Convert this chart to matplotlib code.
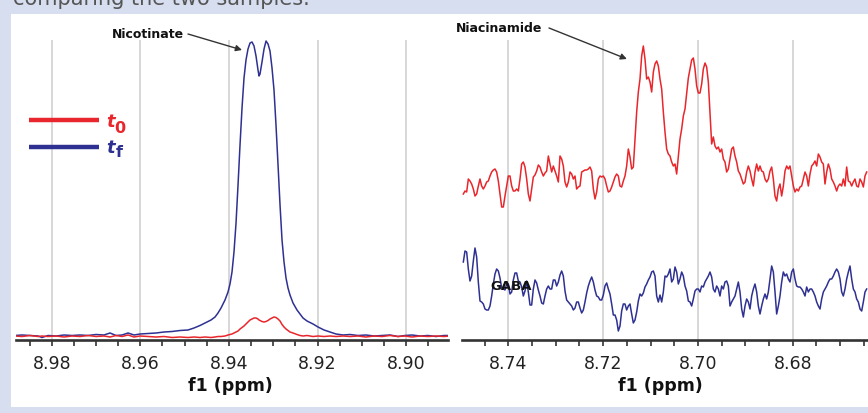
import numpy as np
import matplotlib
matplotlib.use('Agg')
import matplotlib.pyplot as plt
from matplotlib.patches import Rectangle
from matplotlib.lines import Line2D
from matplotlib.ticker import MultipleLocator, FormatStrFormatter

# ---------------- data ----------------
# Left panel: chemical shift (ppm) and intensities (arbitrary units)
left_ppm = [8.98828, 8.98670, 8.98490, 8.98309, 8.98219, 8.98084, 8.97903, 8.97722, 8.97542, 8.97361,
            8.97181, 8.97000, 8.96820, 8.96684, 8.96549, 8.96413, 8.96278, 8.96142, 8.96007, 8.95827,
            8.95646, 8.95465, 8.95285, 8.95104, 8.94924, 8.94788, 8.94653, 8.94540, 8.94405, 8.94314,
            8.94247, 8.94179, 8.94089, 8.94021, 8.93976, 8.93931, 8.93886, 8.93840, 8.93795, 8.93750,
            8.93705, 8.93660, 8.93615, 8.93570, 8.93524, 8.93479, 8.93434, 8.93389, 8.93344, 8.93321,
            8.93299, 8.93254, 8.93208, 8.93163, 8.93118, 8.93073, 8.93028, 8.92983, 8.92938, 8.92892,
            8.92847, 8.92802, 8.92757, 8.92712, 8.92667, 8.92622, 8.92554, 8.92464, 8.92396, 8.92328,
            8.92238, 8.92102, 8.91990, 8.91854, 8.91719, 8.91583, 8.91425, 8.91267, 8.91087, 8.90906,
            8.90726, 8.90545, 8.90365, 8.90184, 8.90026, 8.89868, 8.89687, 8.89507, 8.89326, 8.89146,
            8.89010]

nicotinate_tf = [4.5, 5, 4.5, 4, 2.5, 4.5, 4, 5, 4.5, 5,
                 4.5, 5.5, 5, 7, 4.5, 5, 7, 5, 6, 6.5,
                 7, 8, 8.5, 9.5, 10, 12, 14.5, 17, 20, 23,
                 27, 32, 40, 48, 56, 68, 88, 117, 155, 195,
                 232, 262, 280, 291, 297, 298, 294, 284, 270, 264,
                 266, 278, 291, 299, 296, 289, 272, 250, 215, 175,
                 135, 100, 78, 62, 52, 45, 37, 30, 26, 22,
                 19, 16, 13, 10, 8, 6, 5, 5.5, 4.5, 5,
                 4, 4.5, 5, 3.5, 4.5, 5, 4, 4.5, 3.5, 4.5,
                 4.5]

nicotinate_t0 = [4, 3.5, 4.5, 3.5, 4, 3.5, 4, 3, 4, 3.5,
                 4.5, 3.5, 4, 3, 4.5, 3.5, 5, 3, 4, 3.5,
                 3, 3.5, 2.5, 3, 2.5, 3, 2.5, 3, 2.5, 3,
                 3.5, 3.5, 4, 5, 5.5, 6, 7, 8, 9, 11,
                 12.5, 14, 16, 18, 20, 21, 22, 22, 21, 20,
                 19.5, 18.5, 18, 18.5, 19.5, 21, 22, 23, 22.5, 21,
                 19, 15.5, 13, 11, 9.5, 8, 7, 5.5, 4.5, 4,
                 4.5, 3.5, 4, 3.5, 4, 3.5, 4, 3.5, 4, 3,
                 4, 3.5, 4.5, 3.5, 4, 3, 4, 3.5, 4, 3.5,
                 4]

# Right panel: uniformly sampled spectrum from 8.74948 to 8.66441 ppm
right_ppm_start, right_ppm_end = 8.74948, 8.66441

niacinamide_t0 = [146, 149, 148, 161, 159, 156, 151, 144, 146, 154,
                  161, 154, 151, 154, 158, 159, 164, 168, 170, 171,
                  168, 159, 146, 133, 133, 144, 154, 164, 164, 154,
                  149, 149, 151, 149, 161, 176, 178, 173, 161, 146,
                  139, 151, 163, 165, 169, 175, 173, 168, 164, 167,
                  169, 184, 176, 168, 174, 169, 164, 158, 184, 181,
                  174, 158, 153, 158, 168, 166, 161, 164, 151, 153,
                  154, 168, 169, 170, 170, 171, 173, 169, 151, 141,
                  148, 161, 164, 163, 164, 161, 154, 148, 149, 153,
                  158, 163, 166, 164, 154, 153, 159, 164, 174, 191,
                  183, 171, 173, 201, 228, 248, 261, 284, 294, 281,
                  261, 263, 258, 248, 268, 276, 279, 274, 261,
                  251, 228, 208, 191, 186, 184, 178, 174, 176, 166,
                  184, 201, 211, 224, 231, 246, 262, 271, 280, 282,
                  271, 254, 247, 247, 256, 271, 277, 273, 258, 228,
                  196, 203, 194, 191, 193, 188, 191, 181, 178, 168,
                  171, 181, 191, 193, 184, 178, 169, 166, 161, 156,
                  158, 168, 174, 169, 161, 154, 168, 176, 169, 174,
                  169, 168, 161, 158, 161, 169, 173, 161, 144, 139,
                  151, 156, 144, 154, 169, 174, 171, 174, 164, 154,
                  148, 151, 149, 153, 154, 161, 168, 164, 154, 166,
                  174, 176, 179, 174, 186, 183, 178, 176, 156, 168,
                  176, 171, 161, 158, 154, 149, 154, 156, 154, 161,
                  154, 173, 159, 158, 154, 158, 161, 154, 153, 161,
                  158, 153, 164, 168]

gaba_tf = [78, 89, 88, 71, 59, 64, 79, 92, 83, 58,
           39, 38, 36, 31, 30, 30, 34, 44, 56, 66,
           71, 69, 62, 52, 51, 50, 56, 56, 46, 48,
           60, 67, 67, 59, 58, 53, 44, 49, 59, 48,
           35, 35, 51, 60, 57, 50, 44, 37, 36, 44,
           51, 54, 51, 51, 60, 60, 54, 58, 65, 69,
           64, 49, 40, 38, 36, 34, 30, 32, 38, 38,
           32, 27, 30, 38, 47, 54, 59, 63, 58, 50,
           44, 43, 40, 40, 45, 54, 57, 51, 46, 36,
           25, 25, 20, 9, 14, 29, 36, 36, 30, 34,
           36, 26, 17, 20, 28, 39, 46, 44, 47, 53,
           56, 60, 63, 68, 69, 64, 44, 38, 45,
           38, 48, 64, 63, 66, 71, 58, 61, 73, 68,
           56, 61, 68, 64, 54, 49, 39, 38, 34, 41,
           49, 51, 51, 48, 54, 53, 58, 61, 64, 68,
           63, 51, 48, 54, 51, 44, 54, 51, 58, 59,
           54, 34, 38, 41, 44, 51, 58, 48, 31, 23,
           34, 41, 38, 31, 44, 51, 56, 48, 34, 26,
           34, 41, 46, 41, 48, 61, 74, 68, 48, 26,
           34, 44, 58, 68, 64, 66, 61, 58, 68, 71,
           61, 54, 53, 53, 51, 48, 44, 53, 48, 51,
           51, 48, 44, 38, 34, 31, 41, 48, 51, 54,
           58, 61, 61, 64, 68, 71, 68, 61, 48, 44,
           51, 61, 68, 74, 61, 51, 48, 41, 38, 31,
           29, 38, 48, 51]

assert len(left_ppm) == len(nicotinate_tf) == len(nicotinate_t0)
assert len(niacinamide_t0) == len(gaba_tf) == 243
right_ppm = np.linspace(right_ppm_start, right_ppm_end, len(niacinamide_t0))

tick_fmt = '%.2f'
x_label = 'f1 (ppm)'
legend_labels = [('t', '0'), ('t', 'f')]

# ---------------- styling ----------------
W, H = 868, 414
RED = '#e8262b'
BLUE = '#2e3192'
BG = '#d6deef'

fig = plt.figure(figsize=(W / 100, H / 100), dpi=100)
fig.patch.set_facecolor(BG)
fig.add_artist(Rectangle((11 / W, 1 - 408 / H), (W - 11) / W, (408 - 15) / H,
                         transform=fig.transFigure, facecolor='white',
                         edgecolor='none', zorder=-10))

# caption text continuing from above (cut off by the top edge, as in the reference)
fig.text(13 / W, 1 - 5 / H, 'comparing the two samples.', va='baseline',
         fontsize=15, color='#555555')


def px_rect(l, r, t=41, b=341):
    return [l / W, 1 - b / H, (r - l) / W, (b - t) / H]


axL = fig.add_axes(px_rect(16, 448))
axR = fig.add_axes(px_rect(462, 868))

for ax in (axL, axR):
    ax.set_facecolor('none')
    for s in ('left', 'right', 'top'):
        ax.spines[s].set_visible(False)
    ax.spines['bottom'].set_linewidth(1.9)
    ax.spines['bottom'].set_color('#333333')
    ax.set_yticks([])
    ax.set_ylim(0, 300)
    ax.xaxis.set_major_locator(MultipleLocator(0.02))
    ax.xaxis.set_minor_locator(MultipleLocator(0.005))
    ax.xaxis.set_major_formatter(FormatStrFormatter(tick_fmt))
    ax.tick_params(axis='x', which='both', direction='out', length=4,
                   width=1.2, color='#333333', labelsize=12.5, pad=6,
                   labelcolor='#222222')
    ax.grid(axis='x', which='major', color='#d4d4d4', lw=1.3)
    ax.set_axisbelow(True)
    ax.set_xlabel(x_label, fontsize=12.5, fontweight='bold', color='#111111')
    ax.xaxis.label.set_va('center')

axL.set_xlim(8.98806, 8.89056)
axR.set_xlim(8.74976, 8.66413)
axL.xaxis.set_label_coords(0.4954, -0.15)
axR.xaxis.set_label_coords(0.4877, -0.15)

axL.plot(left_ppm, nicotinate_tf, color=BLUE, lw=1.1, zorder=2)
axL.plot(left_ppm, nicotinate_t0, color=RED, lw=1.1, zorder=3)
axR.plot(right_ppm, niacinamide_t0, color=RED, lw=1.1)
axR.plot(right_ppm, gaba_tf, color=BLUE, lw=1.1)

# annotations
arrow = dict(arrowstyle='-|>', color='#333333', lw=1.0, shrinkA=0, shrinkB=0,
             mutation_scale=9)
axL.annotate('', xy=(8.93705, 290), xycoords='data',
             xytext=(188 / W, 1 - 35 / H), textcoords='figure fraction',
             arrowprops=arrow)
fig.text(147.5 / W, 1 - 35 / H, 'Nicotinate', ha='center', va='center',
         fontsize=9, fontweight='bold', color='#111111')
axR.annotate('', xy=(8.71498, 281), xycoords='data',
             xytext=(549 / W, 1 - 29 / H), textcoords='figure fraction',
             arrowprops=arrow)
fig.text(499.5 / W, 1 - 29 / H, 'Niacinamide', ha='center', va='center',
         fontsize=9, fontweight='bold', color='#111111')
fig.text(511 / W, 1 - 287 / H, 'GABA', ha='center', va='center',
         fontsize=9.5, fontweight='bold', color='#111111', zorder=5)

# legend (drawn manually)
for (main, sub), col, yc, yb, ysb, xs in ((legend_labels[0], RED, 121, 127, 133, 114),
                                          (legend_labels[1], BLUE, 147.5, 153, 157, 116)):
    fig.add_artist(Line2D([29 / W, 99 / W], [1 - yc / H, 1 - yc / H],
                          transform=fig.transFigure, color=col, lw=3.2,
                          solid_capstyle='butt'))
    fig.text(106 / W, 1 - yb / H, main, fontsize=13, style='italic',
             fontweight='bold', color=col, va='baseline')
    fig.text(xs / W, 1 - ysb / H, sub, fontsize=11.5, fontweight='bold',
             color=col, va='baseline')

fig.savefig('out.png', dpi=100, facecolor=fig.get_facecolor())
